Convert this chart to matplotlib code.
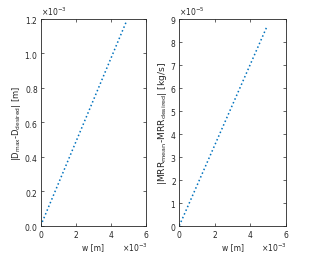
import matplotlib
matplotlib.use("Agg")
import matplotlib.pyplot as plt
from matplotlib.ticker import ScalarFormatter

w = [0.0, 0.0049]
d_err = [0.0, 0.00119]
w2 = [0.0, 0.00495]
mrr_err = [0.0, 8.71e-5]

xticks = [0, 0.002, 0.004, 0.006]
yticks_left = [0, 0.0002, 0.0004, 0.0006, 0.0008, 0.001, 0.0012]
yticks_right = [i * 1e-5 for i in range(10)]

blue = (0, 0.447, 0.741)
txt = (0.15, 0.15, 0.15)
fs = 5.5

fig = plt.figure(figsize=(3.16, 2.55), dpi=100)
W, H = 316, 255
ax1 = fig.add_axes([40.7 / W, 1 - 226.7 / H, (146 - 40.7) / W, (226.7 - 20) / H])
ax2 = fig.add_axes([179.3 / W, 1 - 226.7 / H, (286 - 179.3) / W, (226.7 - 20) / H])

def style(ax, yticks, ylim, ylabel, yfs):
    ax.set_xlim(0, 0.006)
    ax.set_ylim(*ylim)
    ax.set_xticks(xticks)
    ax.set_yticks(yticks)
    for a in (ax.xaxis, ax.yaxis):
        f = ScalarFormatter(useMathText=True)
        f.set_powerlimits((0, 0))
        a.set_major_formatter(f)
    ax.tick_params(direction='in', top=True, right=True, length=2.5, width=0.5,
                   labelsize=fs, colors=txt, pad=2)
    for s in ax.spines.values():
        s.set_linewidth(0.6)
        s.set_color(txt)
    ax.xaxis.get_offset_text().set_visible(False)
    ax.yaxis.get_offset_text().set_fontsize(fs)
    ax.yaxis.get_offset_text().set_color(txt)
    ax.annotate(r'$\times10^{-3}$', xy=(0.77, 0), xycoords='axes fraction',
                xytext=(0, -15), textcoords='offset points',
                ha='left', va='center', fontsize=fs, color=txt)
    ax.set_xlabel('w [m]', fontsize=fs, color=txt, labelpad=2)
    ax.set_ylabel(ylabel, fontsize=yfs, color=txt, labelpad=1)

ax1.plot(w, d_err, linestyle=':', color=blue, linewidth=1.1)
style(ax1, yticks_left, (0, 0.0012), r'|D$_{\rm max}$-D$_{\rm desired}$| [m]', 6.0)
ax2.plot(w2, mrr_err, linestyle=':', color=blue, linewidth=1.1)
style(ax2, yticks_right, (0, 9e-5), r'|MRR$_{\rm mean}$-MRR$_{\rm desired}$| [kg/s]', 6.6)

fig.savefig('out.png', dpi=100)
